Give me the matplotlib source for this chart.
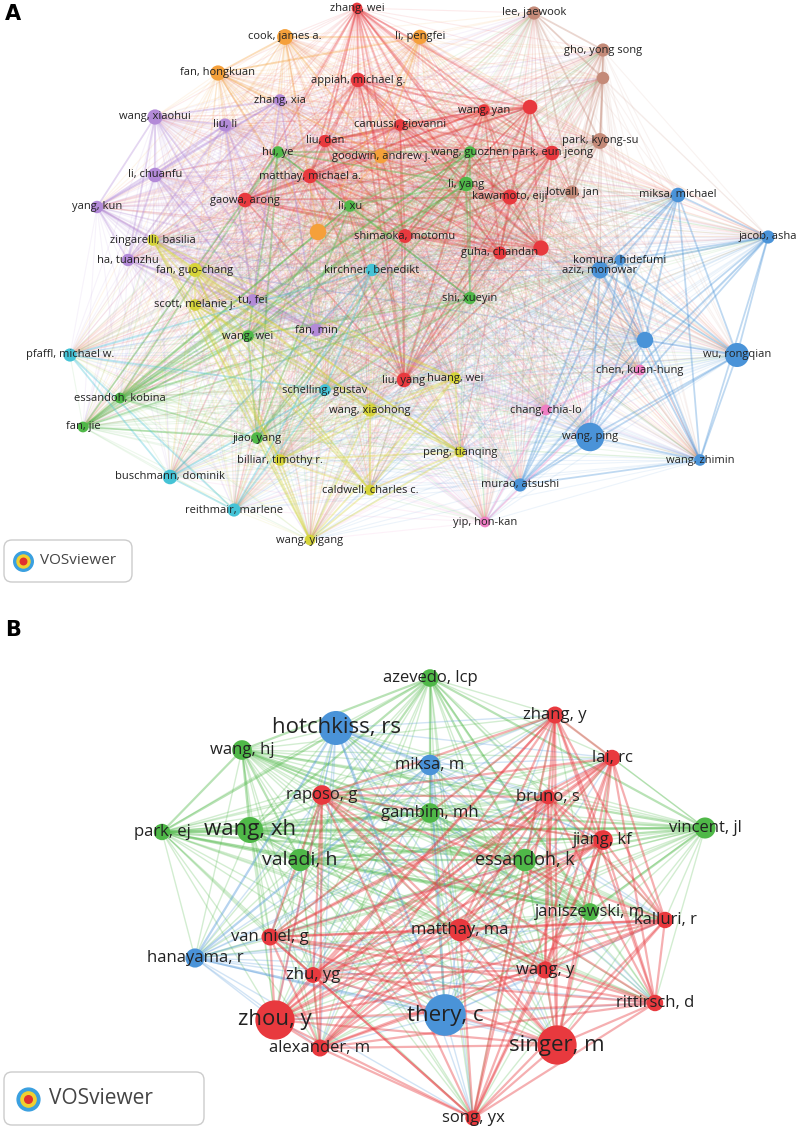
import matplotlib
matplotlib.use("Agg")
import matplotlib.pyplot as plt
from matplotlib.patches import FancyBboxPatch
import itertools

COL = {"red":"#e8393e","orange":"#f5a03a","purple":"#b38ad8","green":"#4fb848","blue":"#4a93d8",
       "yellow":"#d6d43a","cyan":"#45c3d6","brown":"#c48a78","pink":"#ef7fc4"}

# Panel A nodes: label, x, y, cluster, size
a_labels = ["zhang, wei","appiah, michael g.","wang, yan","","camussi, giovanni","liu, dan","park, eun jeong",
 "matthay, michael a.","kawamoto, eiji","gaowa, arong","shimaoka, motomu","guha, chandan","","liu, yang",
 "cook, james a.","li, pengfei","fan, hongkuan","goodwin, andrew j.","",
 "zhang, xia","wang, xiaohui","liu, li","li, chuanfu","yang, kun","ha, tuanzhu","fan, min","tu, fei",
 "hu, ye","wang, guozhen","li, yang","li, xu","shi, xueyin","wang, wei","fan, jie","jiao, yang","essandoh, kobina",
 "lee, jaewook","gho, yong song","park, kyong-su","lotvall, jan","",
 "miksa, michael","jacob, asha","komura, hidefumi","aziz, monowar","wu, rongqian","wang, ping","","wang, zhimin","murao, atsushi",
 "chen, kuan-hung","chang, chia-lo","yip, hon-kan",
 "zingarelli, basilia","fan, guo-chang","scott, melanie j.","wang, xiaohong","peng, tianqing","billiar, timothy r.",
 "caldwell, charles c.","wang, yigang","huang, wei",
 "pfaffl, michael w.","buschmann, dominik","reithmair, marlene","kirchner, benedikt","schelling, gustav"]
a_x = [357,358,484,530,400,325,552,310,510,245,405,500,541,404,
       285,420,218,381,318,
       280,155,225,155,97,128,316,253,
       278,470,466,350,470,248,83,257,120,
       534,603,600,572,603,
       678,768,620,600,737,590,645,700,520,
       640,546,485,
       153,195,195,370,460,280,370,310,455,
       70,170,234,372,325]
a_y = [8,80,110,107,125,141,153,176,197,200,236,253,248,380,
       37,37,73,156,232,
       100,117,125,175,207,260,330,300,
       152,152,184,206,298,336,427,438,398,
       13,50,141,192,78,
       195,237,260,270,355,437,340,460,485,
       370,410,522,
       240,270,305,410,452,460,490,540,378,
       355,477,510,270,390]
a_cl = ["red"]*14+["orange"]*5+["purple"]*8+["green"]*9+["brown"]*5+["blue"]*9+["pink"]*3+["yellow"]*9+["cyan"]*5
a_sz = [60,110,70,110,70,80,110,110,120,110,100,90,120,110,
        130,110,120,110,140,
        70,120,90,110,80,80,80,70,
        70,70,110,70,80,70,60,70,60,
        90,90,130,90,80,
        110,90,60,150,300,420,140,70,90,
        60,60,60,
        70,100,70,90,60,70,60,60,70,
        90,110,90,80,70]

b_labels = ["azevedo, lcp","wang, hj","park, ej","wang, xh","gambim, mh","valadi, h","essandoh, k","vincent, jl","janiszewski, m",
 "hotchkiss, rs","miksa, m","hanayama, r","thery, c",
 "zhang, y","lai, rc","raposo, g","bruno, s","jiang, kf","matthay, ma","van niel, g","kalluri, r","zhu, yg","wang, y",
 "rittirsch, d","zhou, y","singer, m","song, yx","alexander, m"]
b_x = [430,242,162,250,430,300,525,705,590,336,430,195,445,555,612,322,548,603,460,270,665,313,545,655,275,557,473,320]
b_y = [678,750,832,830,813,860,860,828,912,728,765,958,1015,715,758,795,797,840,930,937,920,975,970,1003,1020,1045,1118,1048]
b_cl = ["green"]*9+["blue"]*4+["red"]*15
b_sz = [160,200,140,350,200,260,260,230,160,600,220,190,900,150,140,200,110,200,260,150,140,130,150,140,800,800,120,150]
b_fs = [12,12,12,16,12,14,13,12,12,16,12,12,16,12,12,12,12,12,12,12,12,12,12,12,16,16,12,12]

fig = plt.figure(figsize=(8,11.28), dpi=100)
ax = fig.add_axes([0,0,1,1])
ax.set_xlim(0,800); ax.set_ylim(1128,0); ax.axis("off")

def draw(xs, ys, cls, szs, labels, fs, alpha_in, alpha_out, lw):
    n = len(xs)
    for i, j in itertools.combinations(range(n), 2):
        same = cls[i] == cls[j]
        ax.plot([xs[i], xs[j]], [ys[i], ys[j]], color=COL[cls[i]],
                alpha=alpha_in if same else alpha_out, lw=lw*(1.6 if same else 1), zorder=1,
                solid_capstyle="round")
    ax.scatter(xs, ys, s=szs, c=[COL[c] for c in cls], zorder=3, edgecolors="none")
    for i in range(n):
        if labels[i]:
            f = fs[i] if isinstance(fs, list) else fs
            ax.text(xs[i], ys[i], labels[i], fontsize=f, ha="center", va="center", color="#222222",
                    zorder=4, family="Open Sans")

draw(a_x, a_y, a_cl, a_sz, a_labels, 8, 0.35, 0.10, 0.8)
draw(b_x, b_y, b_cl, b_sz, b_labels, b_fs, 0.4, 0.25, 1.0)

ax.text(5, 14, "A", fontsize=15, fontweight="bold", va="center")
ax.text(5, 630, "B", fontsize=15, fontweight="bold", va="center")

for (x0, y0, w, h, fsz) in [(4, 540, 128, 42, 11), (4, 1072, 200, 53, 15)]:
    ax.add_patch(FancyBboxPatch((x0, y0), w, h, boxstyle="round,pad=0,rounding_size=8",
                 fc="white", ec="#cccccc", lw=1, zorder=5))
    cx = x0 + h*0.45
    ax.scatter([cx], [y0+h/2], s=fsz*18, c="#3aa0e0", zorder=6)
    ax.scatter([cx], [y0+h/2], s=fsz*8, c="#f0d030", zorder=6)
    ax.scatter([cx], [y0+h/2], s=fsz*2, c="#e03030", zorder=6)
    ax.text(x0 + h*0.85, y0+h/2, "VOSviewer", fontsize=fsz, color="#444444", va="center",
            zorder=6, family="Open Sans")

fig.savefig("out.png", dpi=100)
